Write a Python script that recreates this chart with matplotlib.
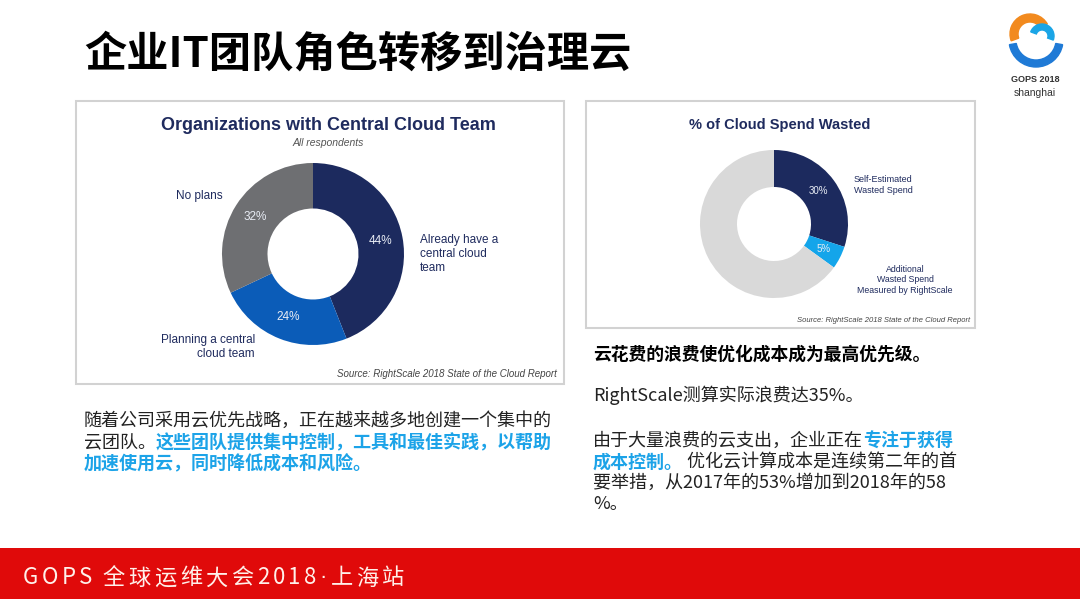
import matplotlib.pyplot as plt
from matplotlib.patches import Rectangle, Wedge

plt.rcParams['font.family'] = ['Noto Sans CJK SC', 'DejaVu Sans']

W, H = 1080, 599

# left chart: central cloud team
team_labels = ['Already have a\ncentral cloud\nteam', 'Planning a central\ncloud team', 'No plans']
team_share = [44, 24, 32]
team_colors = ['#1c2a5e', '#0b5cb8', '#6e6f72']

# right chart: cloud spend wasted
waste_labels = ['Self-Estimated\nWasted Spend', 'Additional\nWasted Spend\nMeasured by RightScale', 'Not wasted']
waste_share = [30, 5, 65]
waste_colors = ['#1c2a5e', '#14a5ea', '#d9d9d9']

page_title = '企业IT团队角色转移到治理云'
footer = 'GOPS 全球运维大会2018·上海站'
source = 'Source: RightScale 2018 State of the Cloud Report'

BLUE = '#1ca3e8'
NAVY = '#1f2b5e'
EN = ['Liberation Sans', 'DejaVu Sans']

fig = plt.figure(figsize=(W / 100, H / 100), dpi=100)
base = fig.add_axes([0, 0, 1, 1], zorder=0)
base.set_xlim(0, W)
base.set_ylim(H, 0)
base.axis('off')

# frames and footer band
base.add_patch(Rectangle((76, 101), 488, 283, fc='white', ec='#d2d2d2', lw=1.5))
base.add_patch(Rectangle((586, 101), 389, 227, fc='white', ec='#d2d2d2', lw=1.5))
base.add_patch(Rectangle((0, 548), W, 51, fc='#e00a0a', ec='none'))

base.text(84, 55, page_title, fontsize=30.4, fontweight='bold', color='black', va='center')

# logo (rough)
base.add_patch(Wedge((1036, 40), 27, 10, 170, width=7, color='#1f7ad6'))
base.add_patch(Wedge((1030, 34), 20, 160, 330, width=8, color='#f28a1e'))
base.add_patch(Wedge((1042, 36), 12, 200, 20, width=6, color='#1aa5e6'))
base.text(1035, 80, 'GOPS 2018', fontsize=6.5, fontweight='bold', color='#333333', ha='center', va='center', family=EN)
base.text(1035, 93, 'shanghai', fontsize=7.5, color='#333333', ha='center', va='center', family=EN)


def donut(cx, cy, r, values, colors, pct_size, hide_last=False):
    ax = fig.add_axes([(cx - r) / W, 1 - (cy + r) / H, 2 * r / W, 2 * r / H], zorder=2)
    n = len(values)
    counter = {'i': 0}

    def fmt(p):
        i = counter['i']
        counter['i'] += 1
        if hide_last and i == n - 1:
            return ''
        return f'{p:.0f}%'

    _, _, autotexts = ax.pie(values, colors=colors, startangle=90, counterclock=False,
                             radius=1, autopct=fmt, pctdistance=0.75,
                             wedgeprops=dict(width=0.5, edgecolor='none'))
    for t in autotexts:
        t.set_color('#e8ecf4')
        t.set_fontsize(pct_size)
        t.set_family(EN)
    ax.set_xlim(-1, 1)
    ax.set_ylim(-1, 1)
    ax.axis('off')
    return ax


donut(313, 254, 91, team_share, team_colors, 8.5)
donut(774, 224, 74, waste_share, waste_colors, 7, hide_last=True)

# left chart texts
base.text(328, 125, 'Organizations with Central Cloud Team', fontsize=13, fontweight='bold',
          color=NAVY, ha='center', va='center', family=EN)
base.text(328, 143, 'All respondents', fontsize=7.5, style='italic', color='#555555',
          ha='center', va='center', family=EN)
base.text(420, 254, team_labels[0], fontsize=8.5, color=NAVY, ha='left', va='center',
          family=EN, linespacing=1.2)
base.text(255, 347, team_labels[1], fontsize=8.5, color=NAVY, ha='right', va='center',
          family=EN, linespacing=1.2, multialignment='right')
base.text(176, 196, team_labels[2], fontsize=8.5, color=NAVY, ha='left', va='center', family=EN)
base.text(557, 374, source, fontsize=7, style='italic', color='#444444', ha='right', va='center', family=EN)

# right chart texts
base.text(780, 125, '% of Cloud Spend Wasted', fontsize=10.5, fontweight='bold',
          color=NAVY, ha='center', va='center', family=EN)
base.text(854, 185, waste_labels[0], fontsize=6.5, color=NAVY, ha='left', va='center',
          family=EN, linespacing=1.25)
base.text(905, 280, waste_labels[1], fontsize=6.3, color=NAVY, ha='center', va='center',
          family=EN, linespacing=1.25)
base.text(970, 320, source, fontsize=5.5, style='italic', color='#444444', ha='right', va='center', family=EN)

renderer = fig.canvas.get_renderer()


def write_runs(x, y, runs, size, spacing=0.0):
    for s, color, weight in runs:
        if s == ' ':
            x += size * 0.45
            continue
        fam = EN if s == '·' else plt.rcParams['font.family']
        t = base.text(x, y, s, fontsize=size, color=color, fontweight=weight,
                      ha='left', va='center', family=fam)
        bb = t.get_window_extent(renderer=renderer)
        x = bb.x1 + spacing


K = '#222222'
S = 13
write_runs(84, 421, [('随着公司采用云优先战略，正在越来越多地创建一个集中的', K, 'normal')], S)
write_runs(84, 443, [('云团队。', K, 'normal'), ('这些团队提供集中控制，工具和最佳实践，以帮助', BLUE, 'bold')], S)
write_runs(84, 464, [('加速使用云，同时降低成本和风险。', BLUE, 'bold')], S)

write_runs(593, 355, [('云花费的浪费使优化成本成为最高优先级。', 'black', 'bold')], 12.8)
write_runs(593, 395, [('RightScale测算实际浪费达35%。', K, 'normal')], S)
write_runs(593, 441, [('由于大量浪费的云支出，企业正在', K, 'normal'), ('专注于获得', BLUE, 'bold')], S)
write_runs(593, 462, [('成本控制。', BLUE, 'bold'), (' 优化云计算成本是连续第二年的首', K, 'normal')], S)
write_runs(593, 483, [('要举措，从2017年的53%增加到2018年的58', K, 'normal')], S)
write_runs(593, 504, [('%。', K, 'normal')], S)

# footer with letter spacing
write_runs(23, 578, [(c, '#fff0ea', 'normal') for c in footer], 16, spacing=3.4)

fig.savefig('out.png', dpi=100)
